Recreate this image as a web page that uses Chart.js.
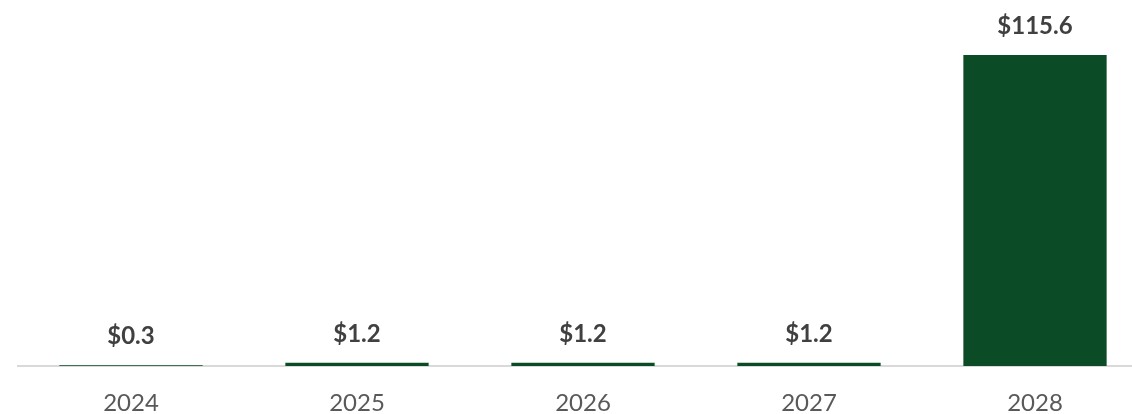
<!DOCTYPE html>
<html>
<head>
<meta charset="utf-8">
<script src="https://cdn.jsdelivr.net/npm/chart.js@4/dist/chart.umd.min.js"></script>
<style>
html,body{margin:0;padding:0;background:#fff;overflow:hidden;width:1132px;height:414px;}
#wrap{position:relative;width:1150px;height:414px;}
</style>
</head>
<body>
<div id="wrap"><canvas id="c" width="1150" height="414"></canvas></div>
<script>
const categories = ['2024', '2025', '2026', '2027', '2028'];
const values = [0.3, 1.2, 1.2, 1.2, 115.6];
const valueLabels = ['$0.3', '$1.2', '$1.2', '$1.2', '$115.6'];

const FONT = 'Lato, "Open Sans", "Liberation Sans", sans-serif';

const labelPlugin = {
  id: 'valueLabels',
  afterDatasetsDraw(chart) {
    const ctx = chart.ctx;
    const meta = chart.getDatasetMeta(0);
    ctx.save();
    ctx.font = 'bold 24px ' + FONT;
    ctx.fillStyle = '#404040';
    ctx.textAlign = 'center';
    ctx.textBaseline = 'alphabetic';
    meta.data.forEach((bar, i) => {
      ctx.fillText(valueLabels[i], bar.x, bar.y - 21);
    });
    ctx.restore();
  }
};

new Chart(document.getElementById('c'), {
  type: 'bar',
  data: {
    labels: categories,
    datasets: [{
      data: values,
      backgroundColor: '#0b4b25',
      borderWidth: 0,
      barPercentage: 0.634,
      categoryPercentage: 1.0
    }]
  },
  options: {
    responsive: false,
    animation: false,
    layout: { padding: { left: 18, right: 2, top: 0, bottom: 0 } },
    plugins: { legend: { display: false }, tooltip: { enabled: false } },
    scales: {
      y: { display: false, min: 0, max: 136 },
      x: {
        z: 1,
        grid: { display: false, drawTicks: false },
        border: { display: true, color: '#d9d9d9', width: 2 },
        ticks: {
          color: '#595959',
          font: { family: FONT, size: 24 },
          padding: 23
        },
        afterFit(s) { s.height = 48; }
      }
    }
  },
  plugins: [labelPlugin]
});
</script>
</body>
</html>
